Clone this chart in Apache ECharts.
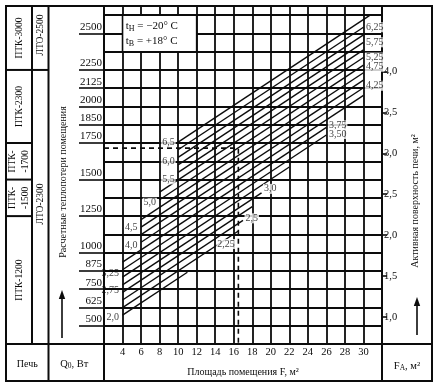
<!DOCTYPE html>
<html><head><meta charset="utf-8">
<script src="https://cdn.jsdelivr.net/npm/echarts@6/dist/echarts.min.js"></script>
<style>html,body{margin:0;padding:0;background:#fff}#c{width:438px;height:391px}</style>
</head><body><div id="c"></div>
<script>
// ---- data ----
const xTickLabels = [4,6,8,10,12,14,16,18,20,22,24,26,28,30];
const qTickValues = [500,625,750,875,1000,1250,1500,1750,1875,2000,2125,2250,2500];
const qTickLabels = ['500','625','750','875','1000','1250','1500','1750','1850','2000','2125','2250','2500'];
const faTickValues = [1.0,1.5,2.0,2.5,3.0,3.5,4.0];
const faTickLabels = ['1,0','1,5','2,0','2,5','3,0','3,5','4,0'];
const qPerFa = 560; // Q (W) corresponding to 1 m2 of active stove surface on the right scale

const lineValues = ['6,5','6,25','6,0','5,75','5,5','5,25','5,0','4,75','4,5','4,25','4,0','3,75','3,50','3,25','3,0','2,75','2,5','2,25','2,0'];
const lineStartF = [10,10,10,10,10,8,8,6,6,6,6,4,4,4,4,4,4,4,4];
const lineStartQ = [1756,1704,1652,1601,1549,1414,1362,1226,1175,1123,1071,935,883,832,780,728,676,624,573];
const lineEndF   = [30.8,30,30,30,30,30,30,30,30,30,30,26,26,22,19,18,17,16.5,11];
const lineEndQ   = [2628,2542,2490,2439,2387,2335,2283,2231,2180,2128,2076,1857,1805,1586,1409,1315,1221,1148,866];
const labelSide  = ['L','R','L','R','L','R','L','R','L','R','L','R','R','L','R','L','R','E','L'];
const labelDy    = [0,0,4,0,7,0,3,-6,0,-2,3,-2,-1,-4,-4,-2,-2,13,2];

const exampleQ = 1715, exampleF = 16.5;
const boxF = [4,12], boxQ = [2375,2625];

const ptkBounds = [2250,1750,1500,1250];
const ptkNames = ['ПТК-3000','ПТК-2300','ПТК-\n-1700','ПТК-\n-1500','ПТК-1200'];
const ltoBounds = [2250];
const ltoNames = ['ЛТО-2500','ЛТО-2300'];

// ---- chart ----
const FONT = '"Liberation Serif","DejaVu Serif",serif';
const INK = '#0c0c0c';
const Q_MIN = 375, Q_MAX = 2687.5;
const chart = echarts.init(document.getElementById('c'), null, {renderer:'canvas'});

const series = lineValues.map((v,i)=>({
  type:'line', xAxisIndex:0, yAxisIndex:0, silent:true, symbol:'none', z:3,
  lineStyle:{color:INK, width:1.4},
  data:[[lineStartF[i], lineStartQ[i]],[lineEndF[i], lineEndQ[i]]]
}));
series.push({
  type:'line', silent:true, symbol:'none', z:3,
  lineStyle:{color:INK, width:1.6, type:[5,4]},
  data:[[2,exampleQ],[exampleF,exampleQ],[exampleF,Q_MIN]],
  markArea:{silent:true, z:4,
    itemStyle:{color:'#fff', borderColor:INK, borderWidth:1.6},
    label:{show:true, position:'insideLeft', distance:4, color:INK, fontFamily:FONT,
      formatter:'{t|t}{s|Н}{t| = −20° C}\n{t|t}{s|В}{t| = +18° C}',
      rich:{t:{fontFamily:FONT, fontSize:11, color:INK, lineHeight:15},
            s:{fontFamily:FONT, fontSize:8, color:INK, padding:[7,0,0,0], lineHeight:15}}},
    data:[[{coord:[boxF[0],boxQ[0]]},{coord:[boxF[1],boxQ[1]]}]]
  }
});
series.push({
  type:'scatter', silent:true, symbolSize:1, z:5,
  itemStyle:{color:'rgba(0,0,0,0)'},
  label:{show:true, fontFamily:FONT, fontSize:10, color:INK},
  data: lineValues.map((txt,i)=>{
    const side = labelSide[i];
    const useEnd = side !== 'L';
    const f = useEnd ? lineEndF[i] : lineStartF[i];
    const q = useEnd ? lineEndQ[i] : lineStartQ[i];
    const pos = side === 'R' ? 'right' : 'left';
    return {value:[f,q], label:{show:true, position:pos, distance: pos==='left'?2:1,
      offset:[0,labelDy[i]], formatter:txt,
      backgroundColor: f>4 ? '#fff' : 'transparent', padding:[0,1]}};
  })
});

const axisLbl = {fontFamily:FONT, color:INK};
chart.setOption({
  animation:false,
  backgroundColor:'#fff',
  grid:{left:104, right:56, top:6, bottom:47, outerBoundsMode:'none', containLabel:false},
  xAxis:{type:'value', min:2, max:32, interval:2,
    axisLine:{show:true, onZero:false, lineStyle:{color:INK, width:2}},
    axisTick:{show:false},
    splitLine:{show:true, lineStyle:{color:INK, width:1.8}},
    axisLabel:Object.assign({}, axisLbl, {fontSize:10.5, margin:3,
      formatter:v=> xTickLabels.indexOf(v)>=0 ? String(v) : ''})},
  yAxis:[
    {type:'value', min:Q_MIN, max:Q_MAX, interval:125, position:'left',
      axisLine:{show:true, lineStyle:{color:INK, width:2}},
      axisTick:{show:false}, axisLabel:{show:false},
      splitLine:{show:true, lineStyle:{color:INK, width:1.8}}},
    {type:'value', min:Q_MIN, max:Q_MAX, interval:125, position:'left',
      axisLine:{show:false}, splitLine:{show:false},
      axisTick:{show:true, customValues:qTickValues, length:25, lineStyle:{color:INK, width:1.6}},
      axisLabel:Object.assign({}, axisLbl, {customValues:qTickValues, fontSize:11, margin:2,
        verticalAlign:'bottom', padding:[0,0,1,0],
        formatter:v=>{const i=qTickValues.indexOf(v); return i<0?'':qTickLabels[i];}})},
    {type:'value', min:Q_MIN/qPerFa, max:Q_MAX/qPerFa, position:'right',
      axisLine:{show:true, lineStyle:{color:INK, width:2}}, splitLine:{show:false},
      axisTick:{show:true, customValues:faTickValues, length:5, lineStyle:{color:INK, width:1.6}},
      axisLabel:Object.assign({}, axisLbl, {customValues:faTickValues, fontSize:10.5, margin:2,
        formatter:v=>{const i=faTickValues.indexOf(v); return i<0?'':faTickLabels[i];}})}
  ],
  series: series
});

// ---- table frame & captions ----
const P = (f,q)=>chart.convertToPixel({xAxisIndex:0, yAxisIndex:0}, [f,q]);
const xL = P(2,Q_MIN)[0], xR = P(32,Q_MIN)[0];
const yB = P(2,Q_MIN)[1], yT = P(2,Q_MAX)[1];
const yQ = q => P(2,q)[1];
const L0 = 6, R0 = 432, B0 = 381, T0 = yT, C1 = 32, C2 = 48.5;
const g = [];
const ln = (x1,y1,x2,y2,w)=>g.push({type:'line', z:20, silent:true,
  shape:{x1,y1,x2,y2}, style:{stroke:INK, lineWidth:w||2}});
const txt = (x,y,text,size,rot,extra)=>g.push({type:'text', z:21, silent:true, x, y, rotation:rot||0,
  style:Object.assign({text, x:0, y:0, align:'center', verticalAlign:'middle',
    font:(size||10)+'px '+FONT, fill:INK, lineHeight:(size||10)+3}, extra||{})});
const arrow = (x,yTail,yHead)=>{
  ln(x,yTail,x,yHead+6,1.6);
  g.push({type:'polygon', z:20, silent:true, shape:{points:[[x,yHead],[x-3.2,yHead+9],[x+3.2,yHead+9]]}, style:{fill:INK}});
};

g.push({type:'rect', z:20, silent:true, shape:{x:L0, y:T0, width:R0-L0, height:B0-T0}, style:{fill:null, stroke:INK, lineWidth:2}});
ln(C1,T0,C1,yB); ln(C2,T0,C2,B0);
ln(xL,yB,xL,B0); ln(xR,yB,xR,B0);
ln(L0,yB,R0,yB);
ptkBounds.forEach(q=>ln(L0,yQ(q),C1,yQ(q)));
ltoBounds.forEach(q=>ln(C1,yQ(q),C2,yQ(q)));

const ptkEdges = [T0].concat(ptkBounds.map(yQ)).concat([yB]);
ptkNames.forEach((n,i)=>txt((L0+C1)/2, (ptkEdges[i]+ptkEdges[i+1])/2, n, 9.5, Math.PI/2));
const ltoEdges = [T0].concat(ltoBounds.map(yQ)).concat([yB]);
ltoNames.forEach((n,i)=>txt((C1+C2)/2+0.5, (ltoEdges[i]+ltoEdges[i+1])/2 - 3, n, 9.5, Math.PI/2));

txt(63, 182, 'Расчетные теплопотери помещения', 10, Math.PI/2);
arrow(62, 338, 290);
txt(415, 201, 'Активная поверхность печи, м²', 10, Math.PI/2);
arrow(417, 335, 297);

txt((L0+C2)/2, 364, 'Печь', 10);
txt((C2+xL)/2 - 2, 364, '{a|Q}{b|0}{a|, Вт}', 10, 0,
  {rich:{a:{font:'10.5px '+FONT, fill:INK}, b:{font:'7.5px '+FONT, fill:INK, padding:[5,0,0,0]}}});
txt((xL+xR)/2, 372, 'Площадь помещения F, м²', 10);
txt((xR+R0)/2, 366, '{a|F}{b|A}{a|, м²}', 10, 0,
  {rich:{a:{font:'10.5px '+FONT, fill:INK}, b:{font:'7.5px '+FONT, fill:INK, padding:[5,0,0,0]}}});

chart.setOption({graphic:{elements:g}});
</script></body></html>
